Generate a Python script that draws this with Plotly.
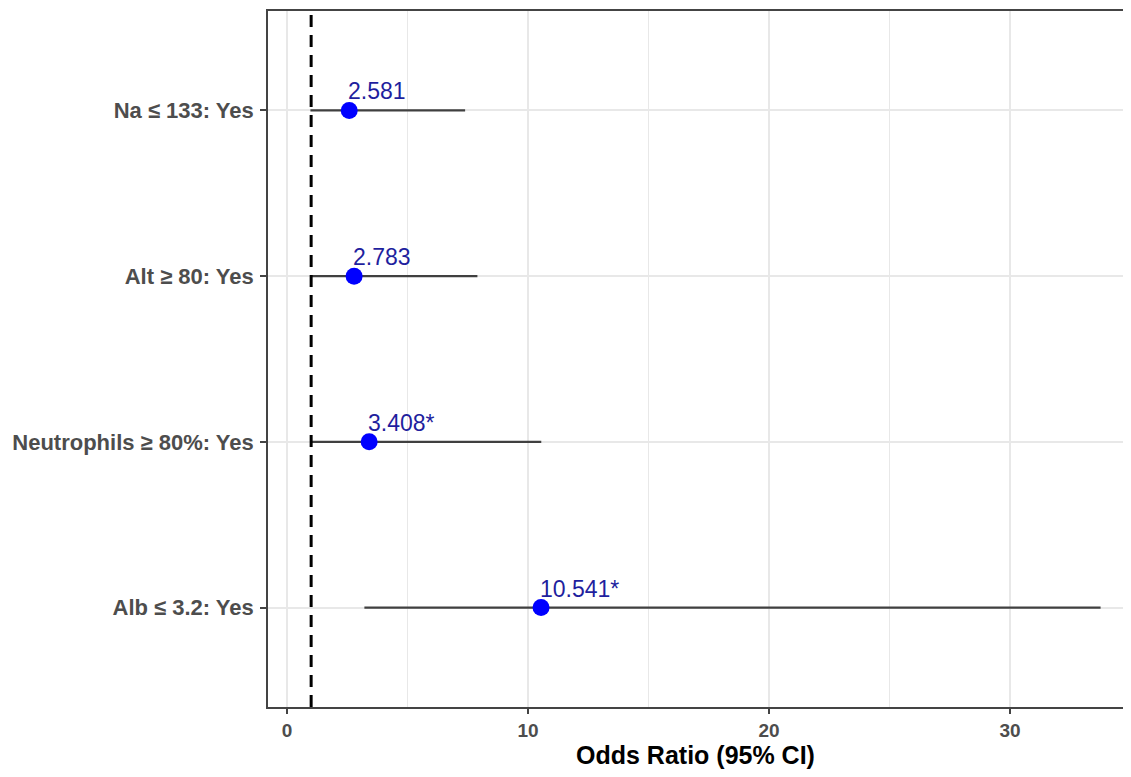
import plotly.graph_objects as go

# Data (bottom to top order on the axis)
categories = ["Alb ≤ 3.2: Yes", "Neutrophils ≥ 80%: Yes", "Alt ≥ 80: Yes", "Na ≤ 133: Yes"]
odds_ratio = [10.541, 3.408, 2.783, 2.581]
ci_low = [3.21, 1.02, 0.98, 0.97]
ci_high = [33.76, 10.55, 7.90, 7.39]
labels = ["10.541*", "3.408*", "2.783", "2.581"]
x_ticks = [0, 10, 20, 30]
ref_line = 1

err_plus = [h - o for h, o in zip(ci_high, odds_ratio)]
err_minus = [o - l for o, l in zip(odds_ratio, ci_low)]

FONT = "Liberation Sans, Arial, Helvetica, sans-serif"

fig = go.Figure()
fig.add_trace(go.Scatter(
    x=odds_ratio, y=categories, mode="markers",
    marker=dict(color="#0000FF", size=17, line=dict(width=0)),
    error_x=dict(type="data", symmetric=False, array=err_plus, arrayminus=err_minus,
                 color="#404040", thickness=2.2, width=0),
    showlegend=False, hoverinfo="skip",
))

for o, c, t in zip(odds_ratio, categories, labels):
    fig.add_annotation(x=o, y=c, text=t, showarrow=False, xanchor="left", yanchor="bottom",
                       xshift=-3, yshift=4,
                       font=dict(family=FONT, size=23, color="#1f1f9e"))

fig.add_vline(x=ref_line, line=dict(color="black", width=3, dash="12px,8px"), layer="above")

fig.update_layout(
    width=1115, height=761,
    margin=dict(l=260, r=0, t=3, b=62),
    paper_bgcolor="white", plot_bgcolor="white",
    font=dict(family=FONT),
    xaxis=dict(
        range=[-0.79, 34.69], tickvals=x_ticks, ticktext=[str(v) for v in x_ticks],
        showgrid=True, gridcolor="#E8E8E8", gridwidth=1.5,
        minor=dict(dtick=5, tick0=0, showgrid=True, gridcolor="#E8E8E8", gridwidth=1.3),
        zeroline=False,
        showline=True, linecolor="#444444", linewidth=1.6, mirror=True,
        ticks="outside", ticklen=5, tickcolor="#444444", tickwidth=1.6,
        tickfont=dict(family=FONT, size=19, color="#4D4D4D", weight="bold"),
        title=dict(text="<b>Odds Ratio (95% CI)</b>", standoff=9,
                   font=dict(family=FONT, size=25, color="black")),
    ),
    yaxis=dict(
        type="category", categoryorder="array", categoryarray=categories,
        range=[-0.6, 3.6],
        showgrid=True, gridcolor="#E8E8E8", gridwidth=1.5,
        zeroline=False,
        showline=True, linecolor="#444444", linewidth=1.6, mirror=False,
        ticks="outside", ticklen=6, tickcolor="#444444", tickwidth=1.6,
        tickfont=dict(family=FONT, size=22, color="#4D4D4D", weight="bold"),
        ticklabelstandoff=2,
    ),
)

fig.write_html("out.html")
